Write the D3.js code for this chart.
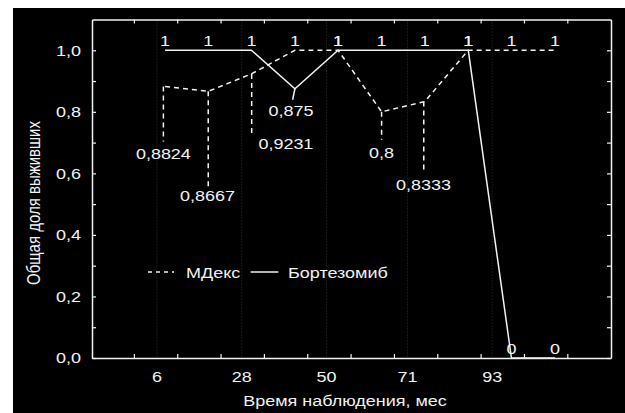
<!DOCTYPE html>
<html>
<head>
<meta charset="utf-8">
<script src="https://cdn.jsdelivr.net/npm/d3@7"></script>
<style>
  html, body { margin: 0; padding: 0; background: #fff; }
  svg { display: block; }
  text { font-family: "Liberation Sans", Arial, sans-serif; fill: #f2f2f2; }
</style>
</head>
<body>
<div id="chart"></div>
<script>
// Data
const months = [8.1, 19.3, 30.5, 41.8, 53.0, 64.3, 75.5, 86.8, 98.0, 109.3];
const mdexValues = [0.8824, 0.8667, 0.9231, 1, 1, 0.8, 0.8333, 1, 1, 1];
const bortValues = [1, 1, 1, 0.875, 1, 1, 1, 1, 0, 0];
const seriesNames = ["МДекс", "Бортезомиб"];
const xLabelTicks = [6, 28, 50, 71, 93];
const yLabelTicks = [0, 0.2, 0.4, 0.6, 0.8, 1.0];

// Where the value labels of the non-round points sit (offsets from the point)
const mdexCallouts = [
  {i: 0, lx: -1.7, ly: 55, tx: -1.7, ty: 73},
  {i: 1, lx: 0, ly: 97, tx: -0.8, ty: 110},
  {i: 2, lx: 0.3, ly: 61, tx: 34.5, ty: 75},
  {i: 5, lx: 0, ly: 28, tx: 0, ty: 46.5},
  {i: 6, lx: -1, ly: 72, tx: -1.3, ty: 88}
];
const bortCallouts = [
  {i: 3, lx: -2.3, ly: 11, tx: -4, ty: 27}
];

const width = 625;
const height = 413;
const plot = {left: 92, top: 19.5, right: 611, bottom: 358};
const ink = "#f2f2f2";
const sx = 1.2;          // the picture is stretched sideways
const fontSize = 15;

const svg = d3.select("#chart")
  .append("svg")
    .attr("width", width)
    .attr("height", height);

svg.append("rect")
    .attr("x", 13)
    .attr("y", 8)
    .attr("width", width - 13)
    .attr("height", height - 8)
    .attr("fill", "#000");

// Scales
const xScale = d3.scaleLinear()
  .domain([-10.87, 123.84])
  .range([plot.left, plot.right]);

const yScale = d3.scaleLinear()
  .domain([0, 1.1])
  .range([plot.bottom, plot.top]);

const comma = d3.formatLocale({decimal: ",", thousands: " ", grouping: [3], currency: ["", ""]});
const fmtTick = comma.format(".1f");
const fmtValue = v => String(v).replace(".", ",");

// stretched text helper
const addText = (g, str, x, y, anchor) => g.append("text")
    .attr("transform", `translate(${x}, ${y}) scale(${sx}, 1)`)
    .attr("text-anchor", anchor || "middle")
    .style("font-size", `${fontSize}px`)
    .text(str);

// Dotted grid lines at labelled months
svg.append("g")
  .selectAll("line")
  .data(xLabelTicks)
  .join("line")
    .attr("x1", d => xScale(d))
    .attr("x2", d => xScale(d))
    .attr("y1", plot.top)
    .attr("y2", plot.bottom)
    .attr("stroke", "#333")
    .attr("stroke-width", 1)
    .attr("stroke-dasharray", "1,2");

// Axes (ticks point inward)
const minorX = d3.range(0, 113, 11.25);
const minorY = d3.range(0, 1.05, 0.1);

const styleAxis = g => {
  g.selectAll("path.domain").attr("stroke", ink).attr("stroke-width", 1.5);
  g.selectAll(".tick line").attr("stroke", ink).attr("stroke-width", 1.2);
  g.selectAll(".tick text").remove();
};

svg.append("g")
    .attr("transform", `translate(0, ${plot.bottom})`)
    .call(d3.axisBottom(xScale).tickValues(minorX).tickSize(-4).tickSizeOuter(0))
    .call(styleAxis);
svg.append("g")
    .attr("transform", `translate(0, ${plot.top})`)
    .call(d3.axisTop(xScale).tickValues(minorX).tickSize(-4).tickSizeOuter(0))
    .call(styleAxis);
svg.append("g")
    .attr("transform", `translate(${plot.left}, 0)`)
    .call(d3.axisLeft(yScale).tickValues(minorY).tickSize(-4).tickSizeOuter(0))
    .call(styleAxis);
svg.append("g")
    .attr("transform", `translate(${plot.right}, 0)`)
    .call(d3.axisRight(yScale).tickValues(minorY).tickSize(-4).tickSizeOuter(0))
    .call(styleAxis);

// Tick labels
const labels = svg.append("g");
xLabelTicks.forEach(t => addText(labels, t, xScale(t), 382));
yLabelTicks.forEach(t => addText(labels, fmtTick(t), 81, yScale(t) + 5.3, "end"));

// Axis titles
addText(svg, "Время наблюдения, мес", 345, 405.5);
svg.append("text")
    .attr("transform", `translate(40, 203) scale(${sx}, 1) rotate(-90)`)
    .attr("text-anchor", "middle")
    .style("font-size", `${fontSize}px`)
    .text("Общая доля выживших");

// Lines
const line = d3.line()
  .x((d, i) => xScale(months[i]))
  .y(d => yScale(d));

svg.append("path")
    .datum(mdexValues)
    .attr("d", line)
    .attr("fill", "none")
    .attr("stroke", ink)
    .attr("stroke-width", 1.5)
    .attr("stroke-dasharray", "5,4");

svg.append("path")
    .datum(bortValues)
    .attr("d", line)
    .attr("fill", "none")
    .attr("stroke", ink)
    .attr("stroke-width", 1.5);

// Value labels: 1 above the top line, 0 above the floor, others with leaders
const valueLabels = svg.append("g");
const roundLabels = (values) => values.forEach((v, i) => {
  if (v === 1) addText(valueLabels, "1", xScale(months[i]), yScale(1) - 4.3);
  if (v === 0) addText(valueLabels, "0", xScale(months[i]), yScale(0) - 4);
});
roundLabels(bortValues);
roundLabels(mdexValues);

const callouts = (values, list, dash) => list.forEach(c => {
  const px = xScale(months[c.i]);
  const py = yScale(values[c.i]);
  valueLabels.append("line")
      .attr("x1", px + (dash ? c.lx : 0))
      .attr("y1", py)
      .attr("x2", px + c.lx)
      .attr("y2", py + c.ly)
      .attr("stroke", ink)
      .attr("stroke-width", 1.5)
      .attr("stroke-dasharray", dash ? "5,4" : null);
  addText(valueLabels, fmtValue(values[c.i]), px + c.tx, py + c.ty);
});
callouts(mdexValues, mdexCallouts, true);
callouts(bortValues, bortCallouts, false);

// Legend
const legend = svg.append("g");
legend.append("line")
    .attr("x1", 148).attr("x2", 174)
    .attr("y1", 272).attr("y2", 272)
    .attr("stroke", ink).attr("stroke-width", 1.5)
    .attr("stroke-dasharray", "4,4");
addText(legend, seriesNames[0], 186, 277.7, "start");
legend.append("line")
    .attr("x1", 250.7).attr("x2", 278.3)
    .attr("y1", 272).attr("y2", 272)
    .attr("stroke", ink).attr("stroke-width", 1.5);
addText(legend, seriesNames[1], 288, 277.7, "start");
</script>
</body>
</html>
